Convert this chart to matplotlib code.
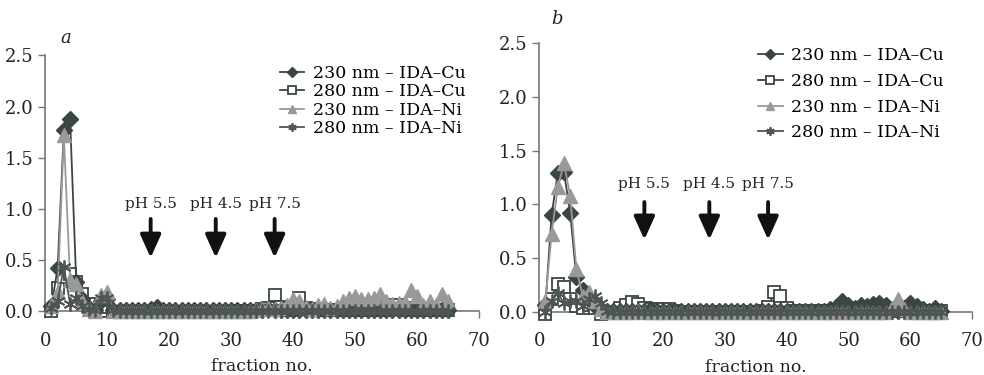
import matplotlib
matplotlib.use('Agg')
import matplotlib.pyplot as plt
import numpy as np

plt.rcParams['font.family'] = ['DejaVu Serif']

fractions = list(range(1, 66))

# panel a
cu230_a = [0.05, 0.42, 1.77, 1.88, 0.28, 0.12, 0.03, 0.01, 0.10, 0.12,
           0.01, 0.01, 0.01, 0.01, 0.01, 0.01, 0.02, 0.04, 0.01, 0.01,
           0.01, 0.01, 0.01, 0.01, 0.01, 0.01, 0.01, 0.01, 0.01, 0.01,
           0.01, 0.01, 0.01, 0.01, 0.01, 0.02, 0.01, 0.01, 0.01, 0.01,
           0.01, 0.01, 0.01, 0.01, 0.01, 0.01, 0.01, 0.01, 0.01, 0.01,
           0.01, 0.01, 0.01, 0.01, 0.01, 0.01, 0.01, 0.01, 0.01, 0.01,
           0.01, 0.01, 0.01, 0.01, 0.01]
cu280_a = [0.00, 0.22, 0.33, 0.36, 0.28, 0.17, 0.07, -0.01, 0.00, 0.04,
           -0.01, -0.01, -0.01, -0.01, -0.01, -0.01, -0.01, -0.01, -0.01, -0.01,
           -0.01, -0.01, -0.01, -0.01, -0.01, -0.01, -0.01, -0.01, -0.01, -0.01,
           0.00, 0.00, 0.00, 0.00, 0.02, 0.03, 0.16, 0.04, 0.03, 0.03,
           0.13, 0.03, 0.02, 0.02, 0.01, 0.01, 0.01, 0.01, 0.01, 0.01,
           0.01, 0.01, 0.01, 0.01, 0.03, 0.06, 0.06, 0.03, 0.02, 0.01,
           0.01, 0.01, 0.01, 0.01, 0.01]
ni230_a = [0.05, 0.18, 1.72, 0.30, 0.26, 0.10, 0.02, 0.00, 0.16, 0.18,
           0.00, 0.00, 0.00, 0.00, 0.00, 0.00, 0.00, 0.00, 0.00, 0.00,
           0.00, 0.00, 0.00, 0.00, 0.00, 0.00, 0.00, 0.00, 0.00, 0.00,
           0.00, 0.00, 0.00, 0.01, 0.02, 0.03, 0.02, 0.03, 0.06, 0.12,
           0.10, 0.04, 0.02, 0.06, 0.07, 0.03, 0.05, 0.10, 0.13, 0.15,
           0.12, 0.12, 0.13, 0.17, 0.10, 0.07, 0.08, 0.09, 0.20, 0.15,
           0.06, 0.10, 0.06, 0.17, 0.10]
ni280_a = [0.03, 0.10, 0.43, 0.07, 0.13, 0.05, 0.02, 0.01, 0.13, 0.13,
           0.01, 0.00, 0.00, 0.00, 0.00, 0.00, 0.00, 0.00, 0.00, 0.00,
           0.00, 0.00, 0.00, 0.00, 0.00, 0.00, 0.00, 0.00, 0.00, 0.00,
           0.00, 0.00, 0.00, 0.00, 0.00, 0.00, 0.00, 0.00, 0.00, 0.00,
           0.00, 0.00, 0.00, 0.00, 0.00, 0.00, 0.00, 0.00, 0.00, 0.00,
           0.00, 0.00, 0.00, 0.00, 0.00, 0.00, 0.00, 0.00, 0.00, 0.00,
           0.00, 0.00, 0.00, 0.00, 0.00]

# panel b
cu230_b = [0.06, 0.90, 1.29, 1.30, 0.92, 0.32, 0.20, 0.12, 0.05, 0.02,
           0.01, 0.01, 0.01, 0.01, 0.01, 0.01, 0.01, 0.02, 0.01, 0.01,
           0.01, 0.01, 0.01, 0.01, 0.01, 0.01, 0.01, 0.01, 0.01, 0.01,
           0.01, 0.01, 0.01, 0.01, 0.01, 0.01, 0.01, 0.01, 0.01, 0.01,
           0.01, 0.01, 0.01, 0.01, 0.01, 0.01, 0.02, 0.04, 0.10, 0.06,
           0.03, 0.06, 0.05, 0.07, 0.08, 0.06, 0.02, 0.01, 0.03, 0.08,
           0.05, 0.02, 0.01, 0.03, 0.01]
cu280_b = [-0.02, 0.12, 0.26, 0.23, 0.12, 0.05, 0.03, 0.06, 0.03, -0.02,
           -0.01, -0.01, 0.03, 0.06, 0.09, 0.07, 0.03, 0.02, 0.02, 0.02,
           0.02, 0.01, 0.00, 0.00, 0.00, 0.00, 0.00, 0.00, 0.00, 0.00,
           0.00, 0.00, 0.00, 0.00, 0.00, 0.01, 0.04, 0.18, 0.15, 0.03,
           0.01, 0.01, 0.01, 0.01, 0.01, 0.01, 0.01, 0.01, 0.01, 0.01,
           0.01, 0.01, 0.01, 0.01, 0.01, 0.01, 0.01, 0.01, 0.01, 0.01,
           0.01, 0.01, 0.01, 0.01, 0.01]
ni230_b = [0.10, 0.72, 1.16, 1.38, 1.08, 0.40, 0.15, 0.18, 0.10, 0.02,
           0.00, 0.00, 0.00, 0.00, 0.00, 0.01, 0.00, 0.00, 0.00, 0.00,
           0.00, 0.00, 0.00, 0.00, 0.00, 0.00, 0.00, 0.00, 0.00, 0.00,
           0.00, 0.00, 0.00, 0.00, 0.00, 0.00, 0.00, 0.00, 0.00, 0.00,
           0.00, 0.00, 0.00, 0.00, 0.00, 0.00, 0.00, 0.00, 0.00, 0.00,
           0.00, 0.00, 0.00, 0.00, 0.00, 0.00, 0.03, 0.12, 0.02, 0.00,
           0.00, 0.00, 0.00, 0.00, 0.00]
ni280_b = [0.00, 0.10, 0.17, 0.08, 0.10, 0.10, 0.05, 0.12, 0.15, 0.08,
           0.01, 0.00, 0.00, 0.00, 0.00, 0.00, 0.00, 0.00, 0.00, 0.00,
           0.00, 0.00, 0.00, 0.00, 0.00, 0.00, 0.00, 0.00, 0.00, 0.00,
           0.00, 0.00, 0.00, 0.00, 0.00, 0.00, 0.00, 0.00, 0.00, 0.00,
           0.00, 0.00, 0.00, 0.00, 0.00, 0.00, 0.00, 0.00, 0.00, 0.00,
           0.00, 0.00, 0.00, 0.00, 0.00, 0.00, 0.00, 0.00, 0.00, 0.00,
           0.00, 0.00, 0.00, 0.00, 0.00]

series_labels = ['230 nm \u2013 IDA\u2013Cu', '280 nm \u2013 IDA\u2013Cu',
                 '230 nm \u2013 IDA\u2013Ni', '280 nm \u2013 IDA\u2013Ni']
ph_labels = ['pH 5.5', 'pH 4.5', 'pH 7.5']
ph_pos = [17, 27.5, 37]

DARK = '#3a4644'
GRAY = '#999999'
STAR = '#4d5654'


def draw_panel(ax, data, letter, letter_xy, ph_text_y, arrow_top, arrow_tip,
               leg_anchor, leg_spacing):
    styles = [
        dict(marker='D', color=DARK, mfc=DARK, mec=DARK, ms=8, zorder=4),
        dict(marker='s', color=DARK, mfc='white', mec=DARK, ms=9, mew=1.3, zorder=3),
        dict(marker='^', color=GRAY, mfc=GRAY, mec=GRAY, ms=10, zorder=5),
        dict(marker=(6, 2, 0), color=STAR, mfc=STAR, mec=STAR, ms=10, mew=1.3, zorder=6),
    ]
    for y, st, lab in zip(data, styles, series_labels):
        ax.plot(fractions, y, lw=1.3, label=lab, clip_on=False, **st)

    ax.set_xlim(0, 70)
    ax.set_ylim(0, 2.5)
    ax.set_xticks(range(0, 71, 10))
    ax.set_yticks([0, 0.5, 1.0, 1.5, 2.0, 2.5])
    ax.set_yticklabels(['0.0', '0.5', '1.0', '1.5', '2.0', '2.5'])
    for s in ['top', 'right']:
        ax.spines[s].set_visible(False)
    for s in ['left', 'bottom']:
        ax.spines[s].set_color('#777777')
        ax.spines[s].set_linewidth(1.2)
    ax.tick_params(axis='both', colors='#777777', labelcolor='#222222',
                   labelsize=13, length=5, direction='out', width=1.0)
    ax.tick_params(axis='x', pad=10)
    ax.set_xlabel('fraction no.', fontsize=12.5, color='#222222', labelpad=6)

    for x, t in zip(ph_pos, ph_labels):
        ax.text(x, ph_text_y, t, ha='center', va='bottom', fontsize=11, color='#222222')
        ax.annotate('', xy=(x, arrow_tip), xytext=(x, arrow_top),
                    arrowprops=dict(arrowstyle='-|>,head_width=0.45,head_length=1.0',
                                    lw=2.8, color='#111111', mutation_scale=14,
                                    shrinkA=0, shrinkB=0))

    ax.text(letter_xy[0], letter_xy[1], letter, transform=ax.transAxes,
            fontsize=13, style='italic', ha='center', va='center', color='#222222')

    ax.legend(loc='upper left', bbox_to_anchor=leg_anchor, frameon=False,
              fontsize=12.5, markerscale=0.6, handlelength=1.4, handletextpad=0.5,
              labelspacing=leg_spacing, borderaxespad=0)


fig = plt.figure(figsize=(9.84, 3.75), dpi=100)
ax_a = fig.add_axes([0.046, 0.171, 0.441, 0.681])
ax_b = fig.add_axes([0.548, 0.169, 0.440, 0.716])

draw_panel(ax_a, [cu230_a, cu280_a, ni230_a, ni280_a], 'a', (0.047, 1.07),
           ph_text_y=0.98, arrow_top=0.9, arrow_tip=0.52,
           leg_anchor=(0.525, 0.99), leg_spacing=0.08)
draw_panel(ax_b, [cu230_b, cu280_b, ni230_b, ni280_b], 'b', (0.04, 1.09),
           ph_text_y=1.12, arrow_top=1.02, arrow_tip=0.67,
           leg_anchor=(0.49, 1.01), leg_spacing=0.5)

fig.savefig('out.png', dpi=100)
